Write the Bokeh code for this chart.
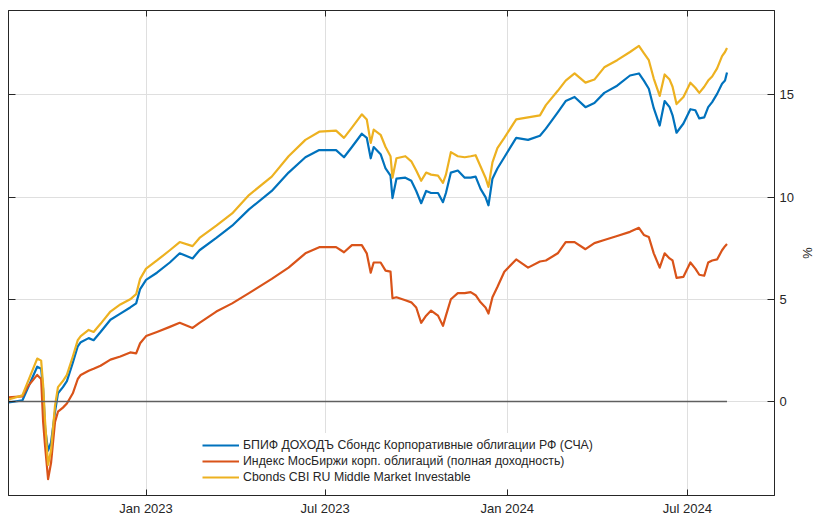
import pandas as pd
from bokeh.plotting import figure
from bokeh.models import (LinearAxis, DatetimeAxis, FixedTicker, DatetimeTickFormatter,
                          Range1d, Grid)
from bokeh.embed import file_html
from bokeh.resources import INLINE

# ---------------- data ----------------
dates = ["2022-08-15", "2022-08-29", "2022-09-03", "2022-09-13", "2022-09-17", "2022-09-19",
         "2022-09-21", "2022-09-24", "2022-09-27", "2022-10-01",
         "2022-10-04", "2022-10-09", "2022-10-13", "2022-10-19", "2022-10-24", "2022-10-27",
         "2022-11-04", "2022-11-09", "2022-11-16", "2022-11-26",
         "2022-12-06", "2022-12-16", "2022-12-22", "2022-12-26", "2023-01-01", "2023-01-12",
         "2023-01-25", "2023-02-04", "2023-02-17", "2023-02-24",
         "2023-03-13", "2023-03-29", "2023-04-15", "2023-05-08", "2023-05-25", "2023-06-11",
         "2023-06-25", "2023-07-12", "2023-07-20", "2023-07-28",
         "2023-08-07", "2023-08-12", "2023-08-16", "2023-08-19", "2023-08-26", "2023-08-31",
         "2023-09-05", "2023-09-07", "2023-09-11", "2023-09-20",
         "2023-09-26", "2023-10-01", "2023-10-06", "2023-10-11", "2023-10-16", "2023-10-23",
         "2023-10-28", "2023-10-31", "2023-11-05", "2023-11-12",
         "2023-11-19", "2023-11-25", "2023-11-30", "2023-12-05", "2023-12-10", "2023-12-13",
         "2023-12-17", "2023-12-22", "2023-12-29", "2024-01-10",
         "2024-01-22", "2024-02-03", "2024-02-09", "2024-02-21", "2024-02-29", "2024-03-09",
         "2024-03-20", "2024-03-29", "2024-04-08", "2024-04-21",
         "2024-05-04", "2024-05-13", "2024-05-18", "2024-05-23", "2024-05-28", "2024-06-03",
         "2024-06-08", "2024-06-13", "2024-06-16", "2024-06-20",
         "2024-06-27", "2024-07-04", "2024-07-09", "2024-07-13", "2024-07-18", "2024-07-22",
         "2024-07-26", "2024-07-31", "2024-08-05", "2024-08-08", "2024-08-10"]

fund = [-0.05, 0.05, 0.6, 1.7, 1.6, 0.6, -1.3, -2.4, -2.0, -0.5,
        0.4, 0.7, 1.0, 1.9, 2.7, 2.9, 3.1, 3.0, 3.4, 4.0,
        4.3, 4.6, 4.8, 5.5, 5.95, 6.3, 6.8, 7.25, 7.0, 7.4,
        8.0, 8.6, 9.4, 10.3, 11.2, 11.95, 12.3, 12.3, 11.95, 12.45,
        13.1, 12.9, 11.9, 12.45, 12.1, 11.4, 11.05, 9.95, 10.9, 10.95,
        10.8, 10.3, 9.7, 10.3, 10.2, 10.2, 9.75, 10.2, 11.2, 11.3,
        10.95, 10.95, 11.0, 10.4, 10.0, 9.6, 10.9, 11.4, 11.95, 12.9,
        12.8, 13.0, 13.35, 14.15, 14.7, 14.9, 14.4, 14.6, 15.1, 15.45,
        15.95, 16.05, 15.7, 15.3, 14.35, 13.5, 14.7, 14.4, 14.0, 13.15,
        13.6, 14.3, 14.25, 13.85, 13.9, 14.4, 14.65, 15.05, 15.55, 15.7, 16.1]

moex = [0.2, 0.25, 0.7, 1.3, 1.1, -1.0, -2.2, -3.8, -3.0, -1.0,
        -0.5, -0.3, -0.1, 0.4, 1.1, 1.3, 1.5, 1.6, 1.75, 2.05,
        2.2, 2.4, 2.35, 2.85, 3.2, 3.4, 3.65, 3.85, 3.6, 3.85,
        4.4, 4.8, 5.3, 6.0, 6.55, 7.25, 7.55, 7.55, 7.3, 7.65,
        7.65, 7.25, 6.3, 6.8, 6.8, 6.4, 6.35, 5.05, 5.1, 4.95,
        4.85, 4.6, 3.85, 4.2, 4.45, 4.2, 3.7, 4.2, 5.0, 5.3,
        5.3, 5.35, 5.2, 4.85, 4.6, 4.3, 5.1, 5.6, 6.35, 6.95,
        6.55, 6.85, 6.9, 7.25, 7.8, 7.8, 7.45, 7.75, 7.9, 8.1,
        8.3, 8.5, 8.15, 8.05, 7.25, 6.55, 7.25, 7.0, 6.9, 6.05,
        6.1, 6.8, 6.5, 6.2, 6.15, 6.8, 6.9, 6.95, 7.4, 7.6, 7.7]

cbonds = [0.1, 0.3, 0.9, 2.1, 2.0, 0.8, -1.0, -3.1, -2.4, -0.2,
          0.7, 1.0, 1.3, 2.2, 3.0, 3.2, 3.5, 3.4, 3.8, 4.4,
          4.75, 5.0, 5.25, 6.0, 6.5, 6.9, 7.4, 7.8, 7.6, 8.0,
          8.6, 9.2, 10.1, 11.0, 12.0, 12.8, 13.2, 13.25, 12.9, 13.4,
          14.05, 13.8, 12.65, 13.3, 13.05, 12.45, 12.0, 10.95, 11.9, 12.0,
          11.75, 11.3, 10.8, 11.2, 11.1, 11.05, 10.7, 11.1, 12.2, 12.0,
          11.95, 12.0, 12.05, 11.5, 10.95, 10.5, 11.7, 12.4, 12.9, 13.8,
          13.9, 14.0, 14.5, 15.2, 15.7, 16.05, 15.6, 15.75, 16.35, 16.7,
          17.1, 17.4, 17.05, 16.7, 15.8, 14.95, 16.0, 15.75, 15.4, 14.55,
          14.9, 15.6, 15.35, 15.1, 15.4, 15.7, 15.9, 16.3, 16.9, 17.1, 17.3]

series_names = ["БПИФ ДОХОДЪ Сбондс Корпоративные облигации РФ (СЧА)",
                "Индекс МосБиржи корп. облигаций (полная доходность)",
                "Cbonds CBI RU Middle Market Investable"]
series_colors = ["#0072BD", "#D95319", "#EDB120"]

x_tick_dates = ["2023-01-01", "2023-07-01", "2024-01-01", "2024-07-01"]
y_ticks = [0, 5, 10, 15]
x_start, x_end = "2022-08-15", "2024-09-27"
y_min, y_max = -4.6, 19.13
baseline = 0
y_axis_title = "%"

# ---------------- figure ----------------
FONT = "Liberation Sans"
TXT = "#262626"
dt = pd.to_datetime(dates)

p = figure(width=817, height=518, x_axis_type=None, y_axis_type=None,
           x_range=Range1d(pd.Timestamp(x_start), pd.Timestamp(x_end)),
           y_range=Range1d(y_min, y_max),
           output_backend="svg", toolbar_location=None,
           min_border_left=8, min_border_right=39, min_border_top=10, min_border_bottom=22,
           background_fill_color="white", border_fill_color="white")
p.outline_line_color = TXT
p.outline_line_width = 1

xt = FixedTicker(ticks=[pd.Timestamp(d).value // 10**6 for d in x_tick_dates])
yt = FixedTicker(ticks=y_ticks)
fmt = DatetimeTickFormatter(days="%b %Y", months="%b %Y", years="%b %Y",
                            hours="%b %Y", minutes="%b %Y", seconds="%b %Y")


def style_axis(ax, tick_in, show_labels):
    ax.axis_line_color = TXT
    ax.major_tick_line_color = TXT
    ax.major_tick_in = tick_in
    ax.major_tick_out = 0
    ax.minor_tick_in = 0
    ax.minor_tick_out = 0
    ax.minor_tick_line_color = None
    ax.major_label_text_font = FONT
    ax.major_label_text_color = TXT
    if show_labels:
        ax.major_label_text_font_size = "13px"
    else:
        ax.major_label_text_font_size = "0px"
        ax.major_label_text_color = None
        ax.major_label_text_alpha = 0
        ax.major_label_standoff = 0


bottom = DatetimeAxis(ticker=xt, formatter=fmt)
style_axis(bottom, 6, True)
bottom.major_label_standoff = 5
p.add_layout(bottom, "below")

top = DatetimeAxis(ticker=xt, formatter=fmt)
style_axis(top, 6, False)
p.add_layout(top, "above")

right = LinearAxis(ticker=yt, axis_label=y_axis_title)
style_axis(right, 7, True)
right.major_label_standoff = 5
right.axis_label_text_font = FONT
right.axis_label_text_font_size = "13px"
right.axis_label_text_font_style = "normal"
right.axis_label_text_color = TXT
right.axis_label_standoff = 3
p.add_layout(right, "right")

left = LinearAxis(ticker=yt)
style_axis(left, 7, False)
p.add_layout(left, "left")

grid_color = "#dfdfdf"
p.add_layout(Grid(dimension=0, ticker=xt, grid_line_color=grid_color, grid_line_width=1))
p.add_layout(Grid(dimension=1, ticker=yt, grid_line_color=grid_color, grid_line_width=1))

for vals, name, col in zip([fund, moex, cbonds], series_names, series_colors):
    p.line(dt, vals, line_color=col, line_width=2.2, legend_label=name, line_join="round")

p.line([dt[0], dt[-1]], [baseline, baseline], line_color="#5f5f5f", line_width=1.6)

lg = p.legend[0]
lg.location = (189, 6)
lg.background_fill_color = "white"
lg.background_fill_alpha = 1
lg.border_line_alpha = 0
lg.label_text_font = FONT
lg.label_text_font_size = "12.3px"
lg.label_text_color = TXT
lg.glyph_width = 37
lg.glyph_height = 14
lg.label_height = 14
lg.spacing = 2
lg.padding = 5
lg.margin = 0
lg.label_standoff = 4

open("out.html", "w").write(file_html(p, INLINE))
